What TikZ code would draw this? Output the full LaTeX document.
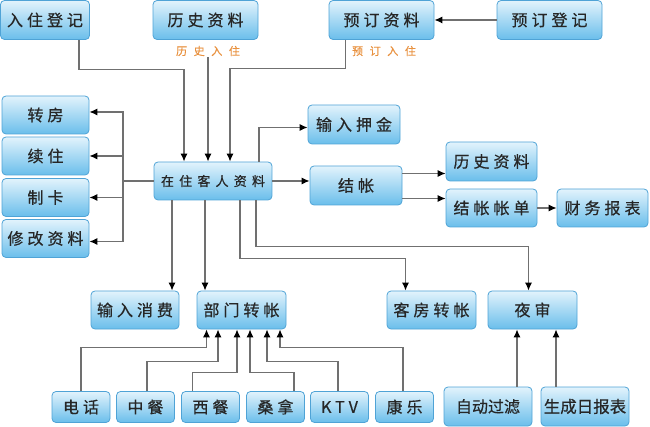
\documentclass[tikz,border=0pt]{standalone}
\usepackage{fontspec}
\usetikzlibrary{arrows.meta}
\newfontfamily\cjk[LetterSpace=25, FakeBold=0.6]{Noto Sans CJK SC}
\newfontfamily\cjkwide[LetterSpace=40, FakeBold=0.6]{Noto Sans CJK SC}
\newfontfamily\cjktag[LetterSpace=60, FakeBold=0.3]{Noto Sans CJK SC}
\newfontfamily\cjkn[FakeBold=0.6]{Noto Sans CJK SC}
\definecolor{boxtop}{HTML}{E2F3FC}
\definecolor{boxbot}{HTML}{6ABEEB}
\definecolor{boxline}{HTML}{4FA3D6}
\definecolor{wire}{HTML}{707070}
\definecolor{tag}{HTML}{E8913F}

\begin{document}
\begin{tikzpicture}[x=1pt, y=-1pt,
    box/.style={draw=boxline, line width=0.8pt, rounded corners=4pt,
        top color=boxtop, bottom color=boxbot, inner sep=0pt,
        minimum width=89pt, minimum height=39pt, text=black!85,
        font=\cjk\fontsize{16}{18}\selectfont},
    small/.style={box, minimum width=58pt, minimum height=31pt},
    wire/.style={draw=wire, line width=1.2pt},
    arr/.style={wire, -{Latex[length=8pt, width=7pt, color=black]}},
    tagtext/.style={text=tag, inner sep=1pt, font=\cjktag\fontsize{11}{12}\selectfont}]
\useasboundingbox (0,0) rectangle (650,427);
\node[box] (ruzhu) at (45, 20){入住登记};
\node[box, minimum width=105pt] (lishi) at (205.5, 20){历史资料};
\node[tagtext] (lishitag) at (208, 51){历史入住};
\node[box, minimum width=105pt] (yuding) at (381.5, 20){预订资料};
\node[tagtext] (yudingtag) at (384, 51){预订入住};
\node[box, minimum width=105pt] (yudingdj) at (549.5, 20){预订登记};
\node[box, minimum width=87pt, minimum height=38pt] (zhuanfang) at (45.5, 115){转房};
\node[box, minimum width=87pt, minimum height=38pt] (xuzhu) at (45.5, 156){续住};
\node[box, minimum width=87pt, minimum height=38pt] (zhika) at (45.5, 197.5){制卡};
\node[box, minimum width=87pt, minimum height=38pt] (xiugai) at (45.5, 238.5){修改资料};
\node[box, minimum width=118pt, minimum height=38pt,
    font=\cjkwide\fontsize{13}{15}\selectfont] (zaizhu) at (213, 181){在住客人资料};
\node[box, minimum width=92pt] (yajin) at (354, 124.5){输入押金};
\node[box, minimum width=92pt] (jiezhang) at (356, 185.5){结帐};
\node[box, minimum width=91pt] (lishib) at (491.5, 161.5){历史资料};
\node[box, minimum width=91pt, minimum height=38pt] (jiedan) at (491.5, 208){结帐帐单};
\node[box, minimum width=91pt, minimum height=38pt] (caiwu) at (602.5, 208){财务报表};
\node[box, minimum width=88pt, minimum height=38pt] (xiaofei) at (135, 310){输入消费};
\node[box, minimum height=38pt] (bumen) at (241.5, 310){部门转帐};
\node[box, minimum height=38pt] (kefang) at (431.5, 310){客房转帐};
\node[box, minimum height=38pt] (yeshen) at (532.5, 310){夜审};
\node[small] (dianhua) at (81, 407){电话};
\node[small] (zhongcan) at (145.5, 407){中餐};
\node[small] (xican) at (210.5, 407){西餐};
\node[small] (sangna) at (275.5, 407){桑拿};
\node[small] (ktv) at (339.5, 407){KTV};
\node[small] (kangle) at (404.5, 407){康乐};
\node[box, minimum width=88pt, font=\cjkn\fontsize{16}{18}\selectfont] (guolv) at (488, 406.5){自动过滤};
\node[box, minimum width=88pt, font=\cjkn\fontsize{16.5}{18}\selectfont] (ribao) at (585, 406.5){生成日报表};
\coordinate (bus) at (123, 181);
% into the guest record
\draw[arr] ([xshift=34]ruzhu.south) -- ++(0,30) -| ([xshift=-29]zaizhu.north);
\draw[arr] (lishitag.south) -- (lishitag.south |- zaizhu.north);
\draw[arr] ([xshift=-36]yuding.south) -- ++(0,29) -| ([xshift=17]zaizhu.north);
\draw[arr] (yudingdj.west) -- (yuding.east);
% left side
\draw[wire] (zaizhu.west) -- (bus);
\draw[arr] (bus) |- ([yshift=3]zhuanfang.east);
\draw[arr] (bus) |- (xuzhu.east);
\draw[arr] (bus) |- (zhika.east);
\draw[arr] (bus) |- ([yshift=-3]xiugai.east);
% right side
\draw[arr] ([xshift=46]zaizhu.north) |- ([yshift=-3]yajin.west);
\draw[arr] (zaizhu.east) -- (zaizhu.east -| jiezhang.west);
\draw[arr] ([yshift=12]jiezhang.east) -- ([yshift=12]jiezhang.east -| lishib.west);
\draw[arr] ([yshift=-13]jiezhang.east) -- ([yshift=-13]jiezhang.east -| jiedan.west);
\draw[arr] (jiedan.east) -- (caiwu.west);
% downwards
\draw[arr] ([xshift=-41]zaizhu.south) -- ([xshift=-41]zaizhu.south |- xiaofei.north);
\draw[arr] ([xshift=-8]zaizhu.south) -- ([xshift=-8]zaizhu.south |- bumen.north);
\draw[arr] ([xshift=27]zaizhu.south) -- ++(0,58) -| ([xshift=-26]kefang.north);
\draw[arr] ([xshift=43]zaizhu.south) -- ++(0,46) -| ([xshift=-4]yeshen.north);
% departments
\draw[arr] (dianhua.north) -- ++(0,-44) -| ([xshift=-35]bumen.south);
\draw[arr] ([xshift=1.5]zhongcan.north) -- ++(0,-30) -| ([xshift=-23.5]bumen.south);
\draw[arr] ([xshift=-18]xican.north) -- ++(0,-19) -| ([xshift=-4.5]bumen.south);
\draw[arr] ([xshift=18.5]sangna.north) -- ++(0,-19) -| ([xshift=8.5]bumen.south);
\draw[arr] ([xshift=-1.5]ktv.north) -- ++(0,-30) -| ([xshift=25.5]bumen.south);
\draw[arr] ([xshift=-1.5]kangle.north) -- ++(0,-44) -| ([xshift=38.5]bumen.south);
% night audit
\draw[arr] ([xshift=29]guolv.north) -- ([xshift=29]guolv.north |- yeshen.south);
\draw[arr] ([xshift=-29]ribao.north) -- ([xshift=-29]ribao.north |- yeshen.south);
\end{tikzpicture}
\end{document}
